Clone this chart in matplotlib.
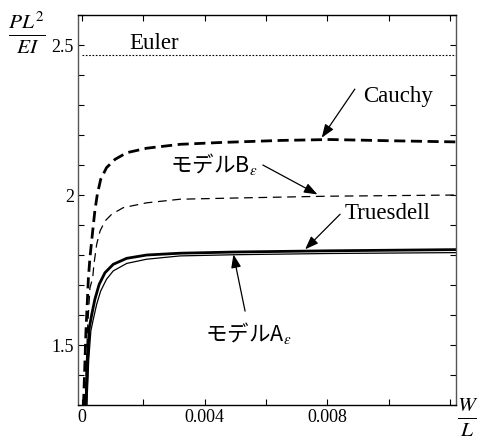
import numpy as np
import matplotlib.pyplot as plt
from matplotlib.ticker import MultipleLocator

plt.rcParams['font.family'] = ['Liberation Serif', 'Noto Sans CJK JP']
plt.rcParams['mathtext.fontset'] = 'stix'

# curves (W/L, PL^2/EI)
cauchy_x = [0.00005, 0.00013, 0.00021, 0.00026, 0.00035, 0.00042, 0.0005, 0.00061, 0.0008, 0.00108,
            0.00146, 0.00211, 0.0032, 0.0045, 0.0065, 0.0081, 0.0100, 0.0122]
cauchy_y = [1.3, 1.547, 1.724, 1.791, 1.88, 1.947, 2.002, 2.052, 2.091, 2.119,
            2.141, 2.156, 2.169, 2.175, 2.182, 2.185, 2.181, 2.177]

model_b_x = [0.0001, 0.00018, 0.00026, 0.00035, 0.00039, 0.00048, 0.00059, 0.00075, 0.00097, 0.00135,
             0.00211, 0.0032, 0.005, 0.008, 0.0122]
model_b_y = [1.3, 1.55, 1.69, 1.724, 1.769, 1.836, 1.88, 1.913, 1.936, 1.958,
             1.974, 1.986, 1.99, 1.996, 2.0]

truesdell_x = [0.00013, 0.00018, 0.00024, 0.00032, 0.00042, 0.00056, 0.00075, 0.00102, 0.00146, 0.00211,
               0.0032, 0.005, 0.008, 0.0122]
truesdell_y = [1.3, 1.45, 1.558, 1.602, 1.652, 1.702, 1.741, 1.769, 1.789, 1.8,
               1.806, 1.81, 1.814, 1.818]

model_a_x = [0.00016, 0.00022, 0.00029, 0.00037, 0.00048, 0.00061, 0.0008, 0.00102, 0.00146, 0.00211,
             0.0032, 0.005, 0.008, 0.0122]
model_a_y = [1.3, 1.45, 1.547, 1.586, 1.636, 1.68, 1.719, 1.747, 1.772, 1.786,
             1.797, 1.801, 1.805, 1.808]

euler = np.pi ** 2 / 4

fig = plt.figure(figsize=(4.79, 4.42), dpi=100)
ax = fig.add_axes([0.1628, 0.0837, 0.7892, 0.8823])

ax.plot([0, 0.0122], [euler, euler], color='black', lw=0.8, ls=(0, (1.5, 1.5)))
ax.plot(cauchy_x, cauchy_y, color='black', lw=2.0, ls=(0, (4, 2)))
ax.plot(model_b_x, model_b_y, color='black', lw=0.9, ls=(0, (7, 4.5)))
ax.plot(truesdell_x, truesdell_y, color='black', lw=2.0)
ax.plot(model_a_x, model_a_y, color='black', lw=0.9)

ax.set_xlim(-0.00013, 0.0122)
ax.set_ylim(1.3, 2.6)

ax.xaxis.set_minor_locator(MultipleLocator(0.002))
ax.yaxis.set_minor_locator(MultipleLocator(0.1))
ax.set_xticks([0, 0.004, 0.008])
ax.set_xticklabels(['0', '0.004', '0.008'])
ax.set_yticks([1.5, 2, 2.5])
ax.set_yticklabels(['1.5', '2', '2.5'])
ax.tick_params(which='both', direction='in', top=True, right=True, length=4, width=0.8,
               labelsize=13, pad=3)
for side in ['left', 'right']:
    ax.spines[side].set_color('#555555')
for side in ax.spines:
    ax.spines[side].set_linewidth(1.0)

arrow = dict(arrowstyle='-|>,head_length=0.8,head_width=0.3', color='black', lw=0.9,
             shrinkA=0, shrinkB=0)

def pointer(head, tail):
    ax.annotate('', xy=head, xytext=tail, arrowprops=arrow)

ax.text(0.00235, 2.505, 'Euler', fontsize=16.5, ha='center', va='center')

ax.text(0.00917, 2.33, 'Cauchy', fontsize=16.5, ha='left', va='center')
pointer((0.00782, 2.191), (0.0089, 2.353))

ax.text(0.00574, 2.103, 'モデルB$_\\epsilon$', fontsize=15.5, family='Noto Sans CJK JP',
        ha='right', va='center')
pointer((0.00768, 2.002), (0.0059, 2.1))

ax.text(0.00858, 1.937, 'Truesdell', fontsize=16.5, ha='left', va='center')
pointer((0.00728, 1.819), (0.00842, 1.936))

ax.text(0.0040, 1.54, 'モデルA$_\\epsilon$', fontsize=15.5, family='Noto Sans CJK JP',
        ha='left', va='center')
pointer((0.00494, 1.802), (0.00532, 1.613))

fig.text(0.057, 0.925, r'$\frac{PL^2}{EI}$', fontsize=22, ha='center', va='center')
fig.text(0.977, 0.057, r'$\frac{W}{L}$', fontsize=22, ha='center', va='center')

fig.savefig('out.png', dpi=100)
